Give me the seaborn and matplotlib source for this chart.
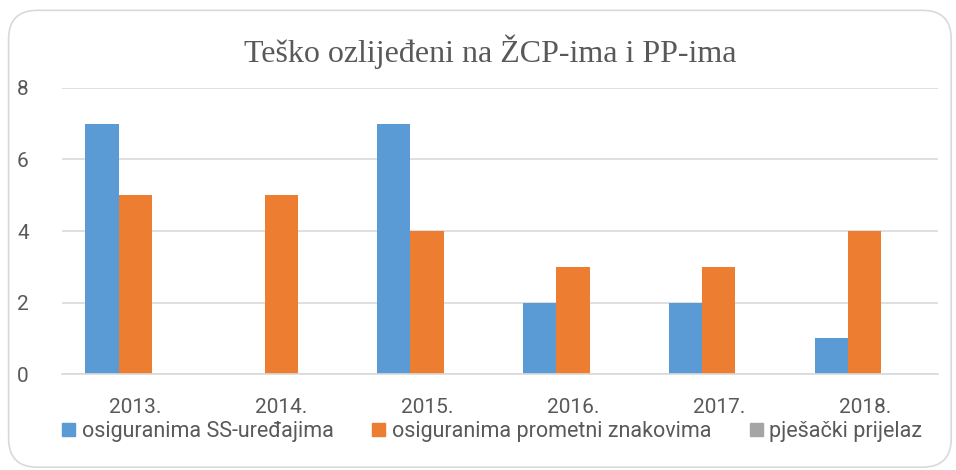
import pandas as pd
import matplotlib.pyplot as plt
import seaborn as sns
from matplotlib.patches import FancyBboxPatch

# data
years = ["2013.", "2014.", "2015.", "2016.", "2017.", "2018."]
ss_uredaji = [7, 0, 7, 2, 2, 1]
prometni_znakovi = [5, 5, 4, 3, 3, 4]
pjesacki = [0, 0, 0, 0, 0, 0]
series_names = ["osiguranima SS-uređajima", "osiguranima prometni znakovima", "pješački prijelaz"]
colors = ["#5B9BD5", "#ED7D31", "#A5A5A5"]
text_color = "#595959"

sns.set_style("white")
plt.rcParams['font.family'] = ['Roboto', 'DejaVu Sans']

rows = []
for name, vals in zip(series_names, [ss_uredaji, prometni_znakovi, pjesacki]):
    for y, v in zip(years, vals):
        rows.append({"year": y, "series": name, "value": v})
df = pd.DataFrame(rows)

fig = plt.figure(figsize=(9.56, 4.7), dpi=100)
ax = fig.add_axes([0.065, 0.204, 0.916, 0.609])

sns.barplot(data=df, x="year", y="value", hue="series", palette=colors,
            width=0.68, ax=ax, saturation=1, legend=False, linewidth=0)

ax.set_ylim(0, 8)
ax.set_yticks([0, 2, 4, 6, 8])
ax.yaxis.grid(True, color="#D9D9D9", linewidth=1.2)
ax.set_axisbelow(True)
for s in ["top", "right", "left"]:
    ax.spines[s].set_visible(False)
ax.spines["bottom"].set_color("#D9D9D9")
ax.spines["bottom"].set_linewidth(1.2)
ax.set_xlabel("")
ax.set_ylabel("")
ax.tick_params(axis="both", length=0, labelsize=15, colors=text_color)
ax.tick_params(axis="x", pad=17)
ax.tick_params(axis="y", pad=24)
ax.set_xlim(-0.5, 5.5)

fig.text(0.513, 0.89, "Teško ozlijeđeni na ŽCP-ima i PP-ima", ha="center", va="center",
         fontsize=23, color=text_color, family=["Liberation Serif", "DejaVu Serif"])

handles = [plt.Rectangle((0, 0), 1, 1, color=c) for c in colors]
fig.legend(handles, series_names, loc="center", bbox_to_anchor=(0.515, 0.082), ncol=3,
           frameon=False, fontsize=15.5, handlelength=0.6, handleheight=0.6,
           handletextpad=0.3, columnspacing=1.8, labelcolor=text_color)

border = FancyBboxPatch((0.009, 0.006), 0.986, 0.972, boxstyle="round,pad=0,rounding_size=0.03",
                        transform=fig.transFigure, facecolor="none", edgecolor="#D9D9D9",
                        linewidth=1.2, mutation_aspect=2.03)
fig.patches.append(border)

fig.savefig("out.png", dpi=100)
